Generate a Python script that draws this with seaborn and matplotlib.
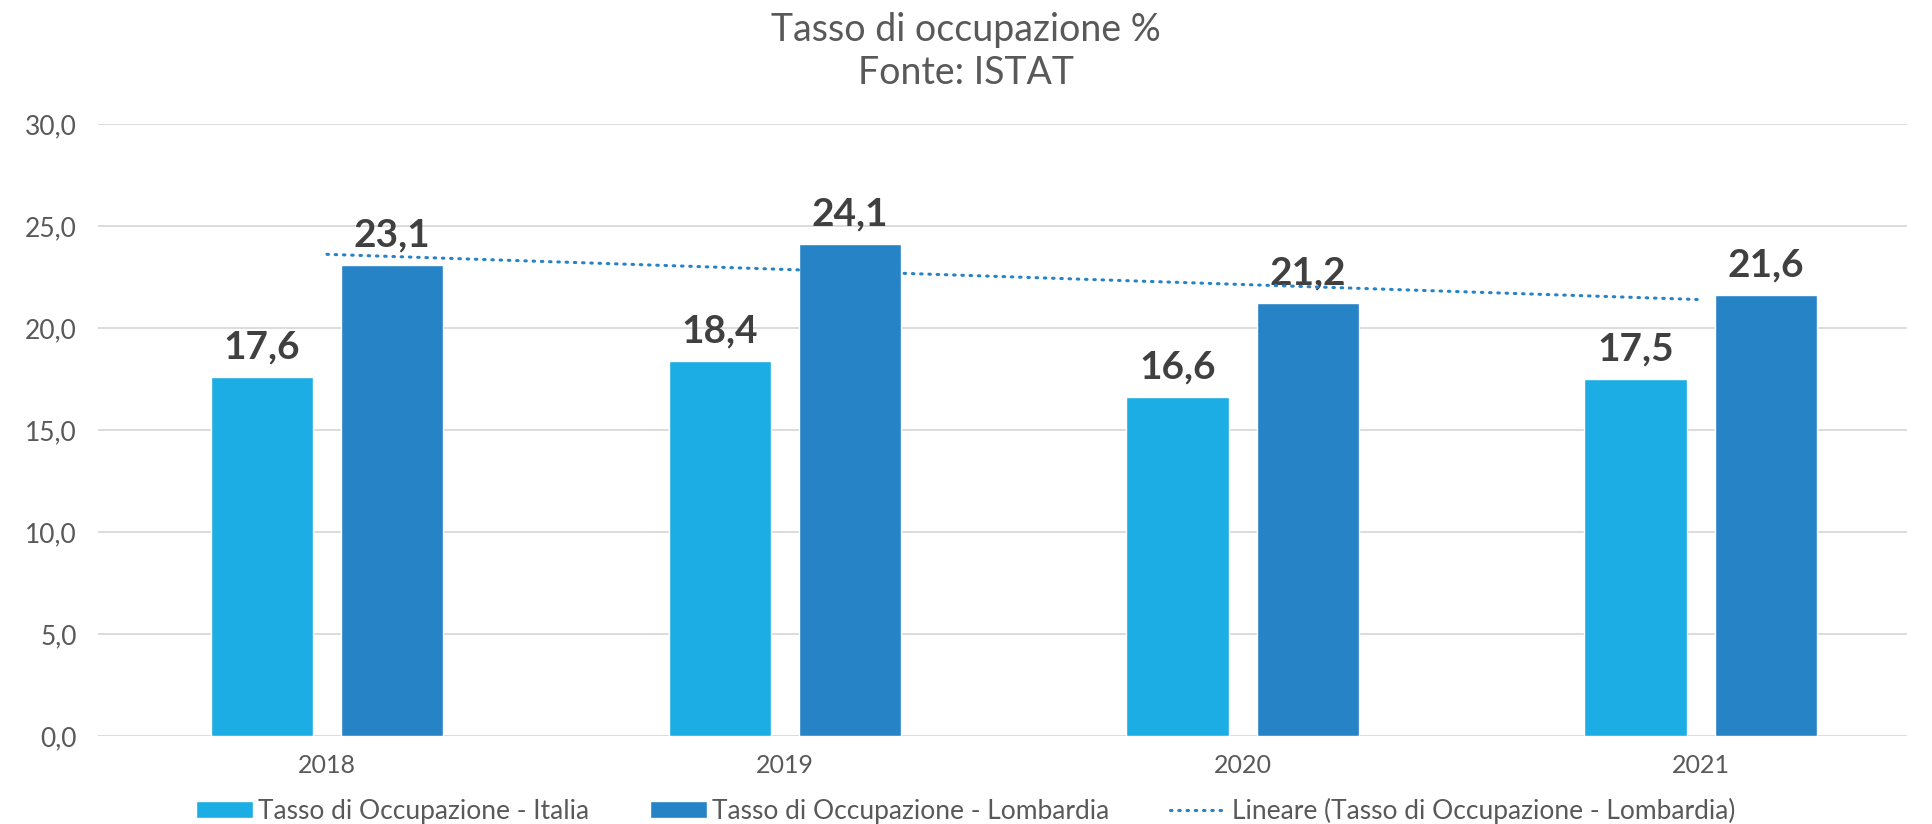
import numpy as np
import pandas as pd
import matplotlib
matplotlib.use("Agg")
import matplotlib.pyplot as plt
from matplotlib.patches import Patch
from matplotlib.lines import Line2D
from matplotlib.ticker import FuncFormatter
import seaborn as sns

# ---- data ----
anni = ["2018", "2019", "2020", "2021"]
italia = [17.6, 18.4, 16.6, 17.5]
lombardia = [23.1, 24.1, 21.2, 21.6]
serie = ["Tasso di Occupazione - Italia", "Tasso di Occupazione - Lombardia"]
trend_label = "Lineare (Tasso di Occupazione - Lombardia)"
titolo = "Tasso di occupazione %\nFonte: ISTAT"

colori = ["#1CADE4", "#2683C6"]

df = pd.DataFrame({
    "anno": anni * 2,
    "valore": italia + lombardia,
    "serie": [serie[0]] * len(anni) + [serie[1]] * len(anni),
})

sns.set_theme(style="white")
plt.rcParams["font.family"] = ["Lato", "DejaVu Sans"]

fig = plt.figure(figsize=(19.32, 8.24), dpi=100)
ax = fig.add_axes([0.0507, 0.107, 0.9363, 0.7425])

sns.barplot(data=df, x="anno", y="valore", hue="serie", order=anni,
            hue_order=serie, palette=colori, width=0.57, gap=0.217,
            saturation=1, legend=False, ax=ax)

for cont in ax.containers:
    vals = [b.get_height() for b in cont]
    ax.bar_label(cont, labels=[f"{v:.1f}".replace(".", ",") for v in vals],
                 padding=9, fontsize=28, fontweight="bold", color="#404040")

# linear trendline for Lombardia
xs = np.arange(len(anni))
coef = np.polyfit(xs, lombardia, 1)
ax.plot(xs, np.polyval(coef, xs), color="#2683C6", lw=2.2,
        linestyle=(0, (0.5, 2.2)), dash_capstyle="round", zorder=3)

ax.set_ylim(0, 30)
ax.set_xlim(-0.5, 3.45)
ax.set_yticks(np.arange(0, 31, 5))
ax.yaxis.set_major_formatter(FuncFormatter(lambda v, p: f"{v:.1f}".replace(".", ",")))
ax.grid(axis="y", color="#D9D9D9", lw=1.3)
ax.set_axisbelow(True)
for s in ax.spines.values():
    s.set_visible(False)
ax.set_xlabel("")
ax.set_ylabel("")
ax.tick_params(axis="y", length=0, pad=15, labelsize=19, labelcolor="#595959")
ax.tick_params(axis="x", length=0, pad=13, labelsize=18, labelcolor="#595959")

fig.text(0.5, 0.9375, titolo, ha="center", va="center", fontsize=27,
         color="#595959", linespacing=1.22)

handles = [Patch(facecolor=colori[0]), Patch(facecolor=colori[1]),
           Line2D([0], [0], color="#2683C6", lw=2.2, linestyle=(0, (0.5, 2.2)),
                  dash_capstyle="round")]
fig.legend(handles, serie + [trend_label], loc="center", bbox_to_anchor=(0.5, 0.016),
           ncol=3, frameon=False, fontsize=19, labelcolor="#595959",
           handlelength=2.15, handleheight=0.6, handletextpad=0.2, columnspacing=2.3)

fig.savefig("out.png", dpi=100)
